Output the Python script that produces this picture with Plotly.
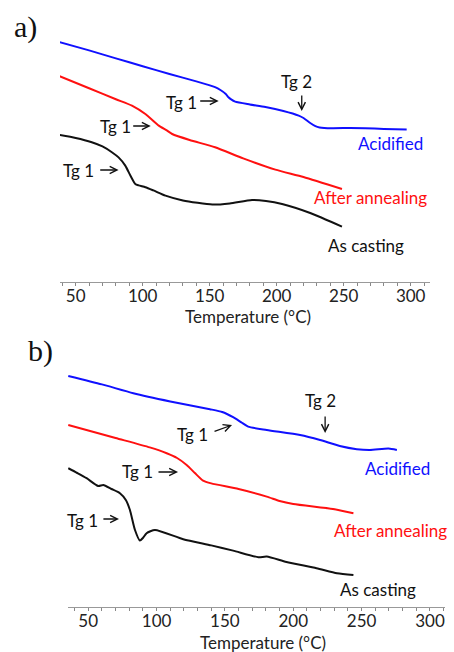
import plotly.graph_objects as go

# ---------------- Panel a) data (Temperature °C, heat flow a.u.) ----------------
a_acid_T = [38, 60, 80, 100, 120, 140, 154, 158, 162, 164, 166, 169, 180, 191.6, 205, 216.4, 220, 225, 228.9, 232, 241, 255, 266, 280, 297]
a_acid_v = [11.99, 11.58, 11.18, 10.79, 10.40, 10.03, 9.74, 9.60, 9.40, 9.24, 9.13, 9.02, 8.88, 8.75, 8.55, 8.32, 8.20, 7.95, 7.79, 7.73, 7.69, 7.70, 7.69, 7.65, 7.62]

a_ann_T = [38, 60, 80, 92, 102, 112, 118, 122, 135, 154, 175, 199, 220, 248.7]
a_ann_v = [10.29, 9.69, 9.14, 8.82, 8.40, 7.82, 7.58, 7.40, 7.10, 6.74, 6.18, 5.62, 5.25, 4.65]

a_cast_T = [38, 50, 62, 70, 77, 82, 87, 91, 94.5, 97, 102, 108, 117, 130, 152, 165, 181.6, 192, 204, 225, 248.7]
a_cast_v = [7.35, 7.20, 6.99, 6.78, 6.49, 6.23, 5.82, 5.30, 4.90, 4.83, 4.74, 4.58, 4.32, 4.08, 3.87, 3.93, 4.10, 4.05, 3.90, 3.45, 2.77]

# ---------------- Panel b) data ----------------
b_acid_T = [35.4, 60, 83, 110, 139, 148, 156, 162, 167, 180.6, 205, 219.6, 234, 246.5, 256, 269.6, 275.8]
b_acid_v = [11.55, 11.13, 10.69, 10.28, 9.89, 9.75, 9.49, 9.23, 9.02, 8.85, 8.60, 8.35, 8.05, 7.89, 7.85, 7.92, 7.85]

b_ann_T = [35.4, 70, 95, 107.4, 115, 122, 128, 134, 140, 160, 180.6, 190, 200, 229, 244]
b_ann_v = [9.10, 8.45, 7.98, 7.69, 7.45, 7.10, 6.70, 6.32, 6.18, 5.90, 5.52, 5.30, 5.15, 4.90, 4.69]

b_cast_T = [35.4, 42, 48.8, 57.3, 61, 67, 73.2, 77.5, 80.5, 84.2, 87.8, 90, 92.7, 98.8, 119.5, 140, 156, 174.5, 180.6, 195, 217, 232, 244]
b_cast_v = [6.94, 6.70, 6.44, 6.05, 6.10, 5.90, 5.69, 5.35, 4.85, 3.85, 3.32, 3.45, 3.69, 3.85, 3.39, 3.08, 2.82, 2.49, 2.52, 2.25, 1.94, 1.69, 1.60]

series_names = ["Acidified", "After annealing", "As casting"]
colors = ["#1010ff", "#ff1010", "#111111"]
tick_vals = [50, 100, 150, 200, 250, 300]
x_title = "Temperature (°C)"

FONT = "Lato"
FS = 17
W, H = 454, 652

fig = go.Figure()

panels = [
    ("x", "y", [(a_acid_T, a_acid_v), (a_ann_T, a_ann_v), (a_cast_T, a_cast_v)]),
    ("x2", "y2", [(b_acid_T, b_acid_v), (b_ann_T, b_ann_v), (b_cast_T, b_cast_v)]),
]
for xa, ya, curves in panels:
    for (T, v), name, c in zip(curves, series_names, colors):
        fig.add_trace(go.Scatter(x=T, y=v, mode="lines", name=name, xaxis=xa, yaxis=ya,
                                 line=dict(color=c, width=2, shape="spline", smoothing=0.6),
                                 showlegend=False, hoverinfo="x+y+name"))

axis_common = dict(
    tickvals=tick_vals, ticks="outside", ticklen=3, tickwidth=1, tickcolor="#888",
    showline=True, linecolor="#999", linewidth=1, showgrid=False, zeroline=False,
    tickfont=dict(family=FONT, size=FS, color="#222"), ticklabelstandoff=-4,
    minor=dict(dtick=10, tick0=0, ticks="outside", ticklen=3, tickcolor="#888", showgrid=False),
)

fig.update_layout(
    width=W, height=H, margin=dict(l=0, r=0, t=0, b=0),
    paper_bgcolor="white", plot_bgcolor="white", showlegend=False,
    xaxis=dict(domain=[60 / W, 430 / W], range=[38.3, 314.4], anchor="y", **axis_common),
    yaxis=dict(domain=[1 - 282 / H, 1 - 30 / H], range=[0, 12.6], visible=False),
    xaxis2=dict(domain=[68 / W, 445 / W], range=[35.2, 311], anchor="y2", **axis_common),
    yaxis2=dict(domain=[1 - 607 / H, 1 - 340 / H], range=[0, 13.35], visible=False),
)

anns = []
def label(text, x, y, xr, yr, color, size=FS):
    anns.append(dict(text=text, x=x, y=y, xref=xr, yref=yr, showarrow=False,
                     font=dict(family=FONT, size=size, color=color), xanchor="center", yanchor="middle"))

def arrow(x0, y0, x1, y1, xr, yr):
    anns.append(dict(text="", x=x1, y=y1, ax=x0, ay=y0, xref=xr, yref=yr, axref=xr, ayref=yr,
                     showarrow=True, arrowhead=5, arrowsize=1.1, arrowwidth=1.3, arrowcolor="#111"))

# axis titles
label(x_title, 248 / W, 1 - 316 / H, "paper", "paper", "#222")
label(x_title, 263 / W, 1 - 642 / H, "paper", "paper", "#222")

# panel a annotations
label("Acidified", 285, 6.9, "x", "y", colors[0])
label("After annealing", 270, 4.2, "x", "y", colors[1])
label("As casting", 266.4, 1.8, "x", "y", "#111")
label("Tg 1", 129, 8.95, "x", "y", "#111")
arrow(141.8, 9.05, 156.7, 9.05, "x", "y")
label("Tg 2", 215, 10.0, "x", "y", "#111")
arrow(218.7, 9.4, 218.7, 8.55, "x", "y")
label("Tg 1", 79.9, 7.75, "x", "y", "#111")
arrow(91.8, 7.8, 106, 7.8, "x", "y")
label("Tg 1", 52.2, 5.55, "x", "y", "#111")
arrow(67.2, 5.6, 82, 5.6, "x", "y")

# panel b annotations
label("Acidified", 276, 6.95, "x2", "y2", colors[0])
label("After annealing", 270.9, 3.85, "x2", "y2", colors[1])
label("As casting", 262, 0.9, "x2", "y2", "#111")
label("Tg 1", 126.6, 8.65, "x2", "y2", "#111")
arrow(141.3, 8.75, 155.2, 9.1, "x2", "y2")
label("Tg 2", 219.6, 10.35, "x2", "y2", "#111")
arrow(223.3, 9.6, 223.3, 8.7, "x2", "y2")
label("Tg 1", 85.7, 6.8, "x2", "y2", "#111")
arrow(100.3, 6.75, 115.7, 6.75, "x2", "y2")
label("Tg 1", 46.1, 4.35, "x2", "y2", "#111")
arrow(60, 4.4, 72.5, 4.4, "x2", "y2")

# panel letters
anns.append(dict(text="a)", x=25 / W, y=1 - 27 / H, xref="paper", yref="paper", showarrow=False,
                 font=dict(family="Liberation Serif", size=30, color="#111"), xanchor="center", yanchor="middle"))
anns.append(dict(text="b)", x=40 / W, y=1 - 351 / H, xref="paper", yref="paper", showarrow=False,
                 font=dict(family="Liberation Serif", size=30, color="#111"), xanchor="center", yanchor="middle"))

fig.update_layout(annotations=anns)
fig.write_html("out.html", config={"displayModeBar": False},
               post_script="document.body.style.margin='0';document.body.style.overflow='hidden';")
